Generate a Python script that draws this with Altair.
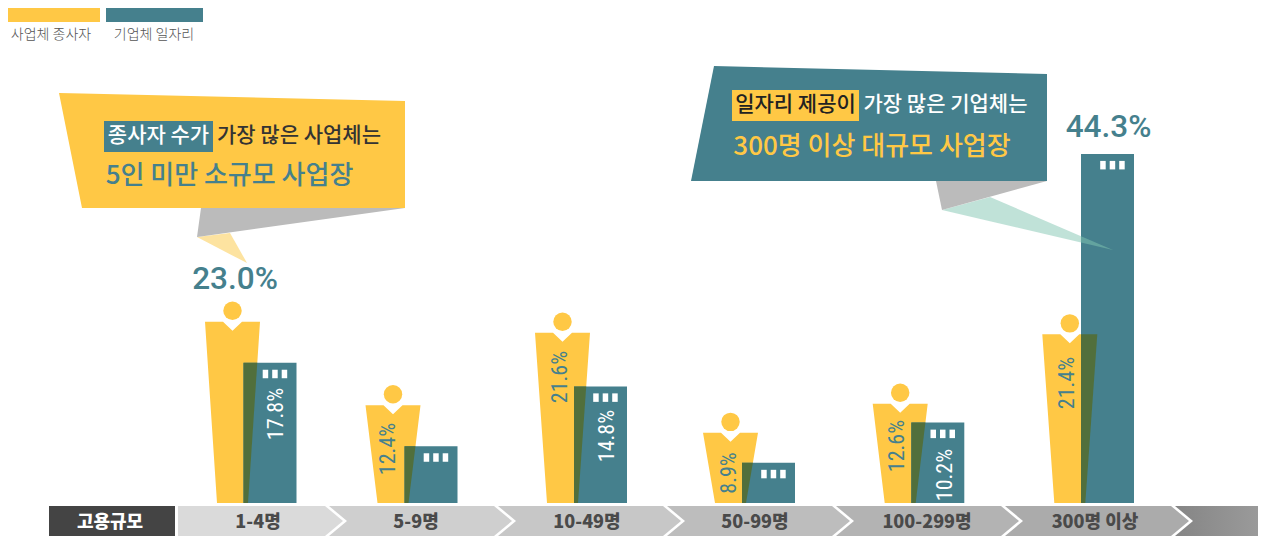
import altair as alt
import pandas as pd

categories = ["1-4명", "5-9명", "10-49명", "50-99명", "100-299명", "300명 이상"]
worker_share = [23.0, 12.4, 21.6, 8.9, 12.6, 21.4]
# shares with no printed label (5-9명, 50-99명) are read from the bar height
job_share = [17.8, 7.2, 14.8, 5.1, 10.2, 44.3]

YEL = "#FFC845"
TEAL = "#45808D"
OVER = "#516F3C"
KR = "Noto Sans CJK KR"
NUM = "Roboto Condensed, Roboto"
W, H = 1250, 528
PX = 7.88  # pixels per percentage point
BASE = 503

# layout (page pixels)
person_left = [205, 365.5, 535, 703, 872.7, 1042.3]
bar_left = [243.5, 404.5, 574, 742, 911.3, 1081]
band_text_x = [258, 416, 587, 755, 927, 1095]
worker_label_x = [None, 388, 560, 729, 897, 1067]
worker_label_y = [None, 449, 377, 473, 446, 383]
job_label_x = [276, None, 607, None, 945, None]
job_label_y = [414, None, 436, None, 475, None]

xs = alt.Scale(domain=[8, 8 + W], nice=False, zero=False)
ys = alt.Scale(domain=[8 + H, 8], nice=False, zero=False)
yv = alt.Scale(domain=[(BASE - 8 - H) / PX, (BASE - 8) / PX], nice=False, zero=False)


def chains(points):
    vx = sorted({p[0] for p in points})
    rows = []
    n = len(points)
    for x in vx:
        hits = []
        for i in range(n):
            (x0, y0), (x1, y1) = points[i], points[(i + 1) % n]
            if x0 == x1:
                if x == x0:
                    hits += [y0, y1]
            elif min(x0, x1) <= x <= max(x0, x1):
                hits.append(y0 + (y1 - y0) * (x - x0) / (x1 - x0))
        rows.append({"x": x, "y": min(hits), "y2": max(hits)})
    return pd.DataFrame(rows)


def poly(points, color, **kw):
    return (
        alt.Chart(chains(points))
        .mark_area(color=color, **kw)
        .encode(
            x=alt.X("x:Q", scale=xs, axis=None),
            y=alt.Y("y:Q", scale=ys, axis=None),
            y2="y2:Q",
        )
    )


def value_area(df, color):
    return (
        alt.Chart(df)
        .mark_area(color=color)
        .encode(
            x=alt.X("x:Q", scale=xs, axis=None),
            y=alt.Y("y:Q", scale=yv, axis=None),
            y2="y2:Q",
        )
    )


def txt(x, y, s, size, color, font=KR, weight=500, angle=0, **kw):
    return (
        alt.Chart(pd.DataFrame({"x": [x], "y": [y], "t": [s]}))
        .mark_text(
            fontSize=size, color=color, font=font, fontWeight=weight,
            angle=angle, align="center", baseline="middle", **kw
        )
        .encode(
            x=alt.X("x:Q", scale=xs, axis=None),
            y=alt.Y("y:Q", scale=ys, axis=None),
            text="t:N",
        )
    )


def box(x0, y0, x1, y1, color):
    return poly([(x0, y0), (x1, y0), (x1, y1), (x0, y1)], color)


layers = []

# legend
layers += [
    box(3, 8, 100, 22, YEL),
    box(106, 8, 203, 22, TEAL),
    txt(51, 35, "사업체 종사자", 14, "#555555", weight=300),
    txt(154, 35, "기업체 일자리", 14, "#555555", weight=300),
]

# bottom band, painted right to left
band_top = [325, 494, 663, 832, 1001, 1171]
band_col = ["#DADADA", "#CFCFCF", "#C7C7C7", "#BDBDBD", "#B3B3B3", "#ABABAB"]
layers.append(
    box(1171, 506, 1266, 536,
        alt.LinearGradient(
            gradient="linear", x1=0, x2=1, y1=0, y2=0,
            stops=[alt.GradientStop(offset=0, color="#848484"),
                   alt.GradientStop(offset=1, color="#9C9C9C")],
        ))
)
for i in range(5, -1, -1):
    left = 178 if i == 0 else band_top[i - 1]
    t = band_top[i]
    layers.append(poly([(left, 506), (t + 4, 506), (t + 22, 521), (t + 4, 536), (left, 536)], "white"))
    layers.append(poly([(left, 506), (t, 506), (t + 18, 521), (t, 536), (left, 536)], band_col[i]))
layers.append(box(49, 506, 175, 536, "#444444"))
layers.append(txt(110, 523, "고용규모", 18, "white", weight=900))
for c, x in zip(categories, band_text_x):
    layers.append(txt(x, 523, c, 18, "#4A4A4A", weight=900))

# worker figures
notch = 9 / PX
for v, L in zip(worker_share, person_left):
    C = L + 27.5
    person = pd.DataFrame(
        {
            "x": [L, L + 12, C - 9.5, C, C + 9.5, L + 43, L + 55],
            "y": [v, v, v, v - notch, v, v, v],
            "y2": [v, 0, 0, 0, 0, 0, v],
        }
    )
    layers.append(value_area(person, YEL))
    layers.append(
        alt.Chart(pd.DataFrame({"x": [C], "v": [v + 11 / PX]}))
        .mark_circle(color=YEL, opacity=1, size=340)
        .encode(
            x=alt.X("x:Q", scale=xs, axis=None),
            y=alt.Y("v:Q", scale=yv, axis=None),
        )
    )

# job bars, with the overlap of each figure and bar
for v, w, x, L in zip(job_share, worker_share, bar_left, person_left):
    layers.append(
        alt.Chart(pd.DataFrame({"x": [x], "x2": [x + 53], "v": [v], "z": [0]}))
        .mark_rect(color=TEAL)
        .encode(
            x=alt.X("x:Q", scale=xs, axis=None),
            x2="x2:Q",
            y=alt.Y("v:Q", scale=yv, axis=None),
            y2="z:Q",
        )
    )
    top = min(v, w)
    edge = L + 43 + 12 * top / w
    layers.append(
        value_area(
            pd.DataFrame({"x": [x, L + 43, edge], "y": [top, top, top], "y2": [0, 0, top]}),
            OVER,
        )
    )
    for dx in (19.2, 28.7, 38.2):
        layers.append(
            alt.Chart(pd.DataFrame({"x": [x + dx], "x2": [x + dx + 5.5],
                                    "a": [v - 7 / PX], "b": [v - 15.5 / PX]}))
            .mark_rect(color="white")
            .encode(
                x=alt.X("x:Q", scale=xs, axis=None),
                x2="x2:Q",
                y=alt.Y("a:Q", scale=yv, axis=None),
                y2="b:Q",
            )
        )

# rotated value labels
for v, x, y in zip(worker_share, worker_label_x, worker_label_y):
    if x is not None:
        layers.append(txt(x, y, f"{v}%", 22, TEAL, font=NUM, weight=400, angle=270))
for v, x, y in zip(job_share, job_label_x, job_label_y):
    if x is not None:
        layers.append(txt(x, y, f"{v}%", 22, "white", font=NUM, weight=400, angle=270))

# callout: workers
layers += [
    poly([(197, 237), (230, 233), (247, 263)], "#FDE3A0"),
    poly([(201, 208), (405, 208), (197, 237)], "#BBBBBB"),
    poly([(59, 93), (405, 101), (405, 208), (82, 208)], YEL),
    box(104, 121, 213, 152, TEAL),
    txt(158.5, 136, "종사자 수가", 21, "white"),
    txt(299, 136, "가장 많은 사업체는", 21, "#333333"),
    txt(229.5, 176, "5인 미만 소규모 사업장", 26, TEAL),
    txt(235, 280, f"{worker_share[0]}%", 31.5, TEAL, font="Roboto", weight=500),
]

# callout: jobs
layers += [
    poly([(942, 210), (990, 197), (1113, 250)], "#81C5B1", opacity=0.5),
    poly([(936, 181), (1047, 181), (942, 210)], "#BBBBBB"),
    poly([(714, 66), (1047, 74), (1047, 181), (691, 181)], TEAL),
    box(732, 90, 859, 121, YEL),
    txt(795.5, 105, "일자리 제공이", 21, "#222222"),
    txt(945.5, 105, "가장 많은 기업체는", 21, "white"),
    txt(872, 147, "300명 이상 대규모 사업장", 26, YEL),
    txt(1108.5, 128, f"{job_share[5]}%", 31.5, TEAL, font="Roboto", weight=500),
]

chart = (
    alt.layer(*layers)
    .resolve_scale(y="independent")
    .properties(width=W, height=H, padding=0, autosize=alt.AutoSizeParams(type="none"), background="white")
    .configure_view(stroke=None)
)
chart.save("out.html", embed_options={"renderer": "svg", "actions": False})
